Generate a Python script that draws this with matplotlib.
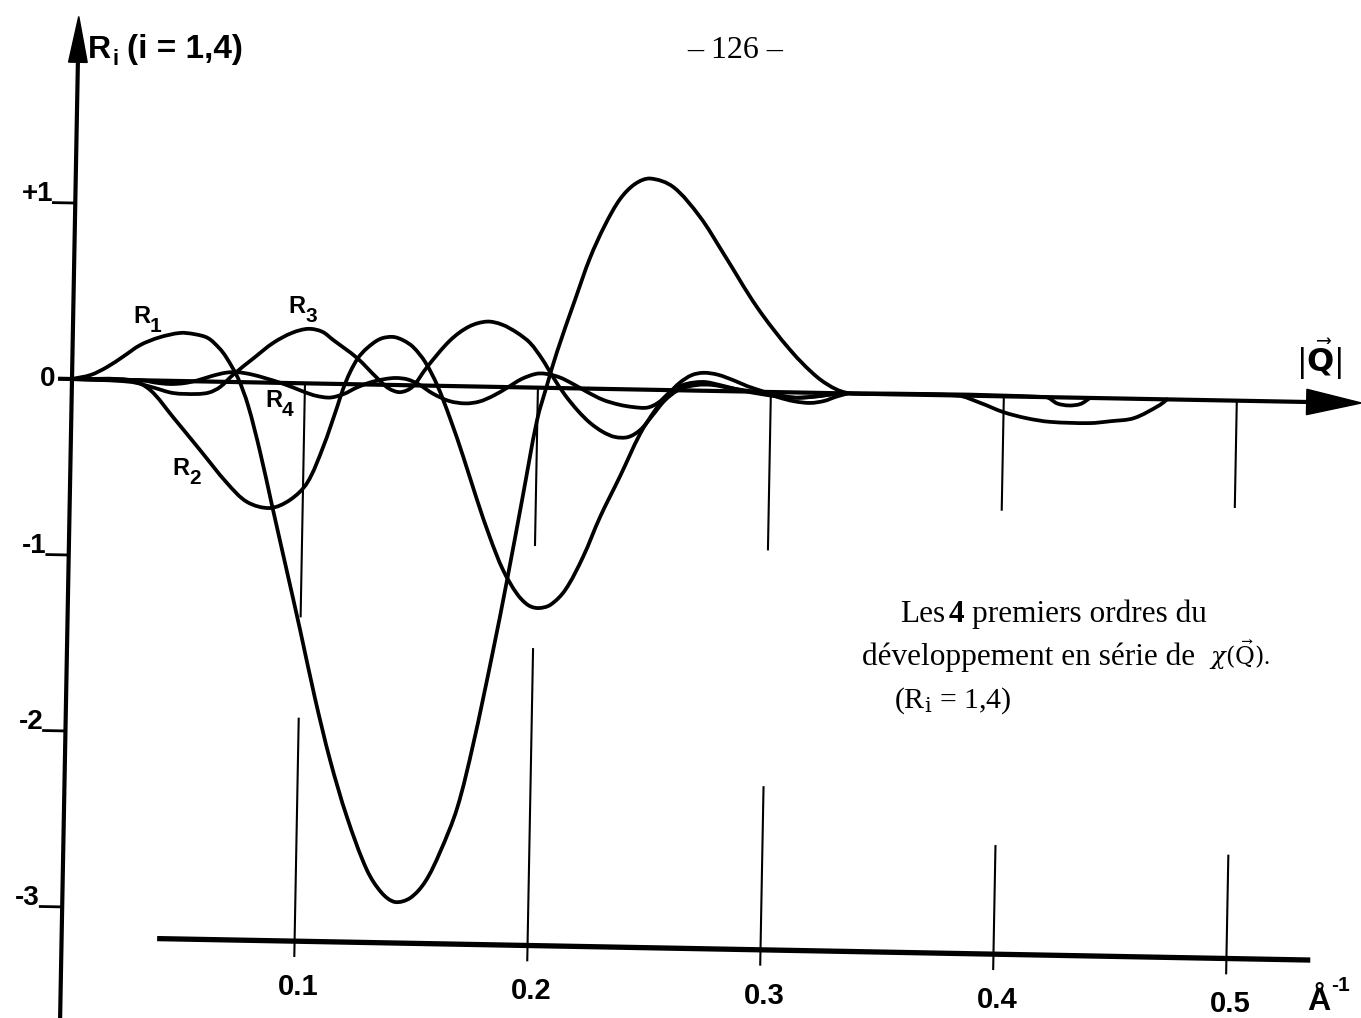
import numpy as np
import matplotlib
matplotlib.use("Agg")
import matplotlib.pyplot as plt
from matplotlib.transforms import Affine2D
from matplotlib.patches import Polygon, PathPatch
from matplotlib.path import Path

# ---------------------------------------------------------------------------
# Radial orders R_i(|Q|) of the expansion of chi(Q), i = 1..4
# ---------------------------------------------------------------------------
q_r1 = [0.000, 0.008, 0.015, 0.022, 0.029, 0.037, 0.046, 0.052, 0.058, 0.063,
        0.066, 0.0712, 0.0757, 0.0813, 0.0868, 0.0933, 0.0999, 0.1068, 0.1138,
        0.1215, 0.1305, 0.1371, 0.1428, 0.1492, 0.1555, 0.1617, 0.1687, 0.1750,
        0.1825, 0.1883, 0.1941, 0.1999, 0.2039, 0.2079, 0.2152, 0.2213, 0.2275,
        0.2338, 0.2401, 0.2465, 0.2564, 0.2682, 0.2784, 0.2934, 0.3080, 0.3197,
        0.3284, 0.3350, 0.380, 0.390, 0.400, 0.410, 0.420, 0.437, 0.446, 0.456,
        0.467, 0.470]
r1 = [0.000, 0.025, 0.072, 0.135, 0.200, 0.245, 0.273, 0.268, 0.247, 0.190,
      0.140, 0.023, -0.129, -0.395, -0.695, -1.045, -1.402, -1.787, -2.138,
      -2.460, -2.759, -2.888, -2.937, -2.913, -2.820, -2.649, -2.397, -2.037,
      -1.524, -1.096, -0.640, -0.184, 0.016, 0.205, 0.502, 0.742, 0.931,
      1.081, 1.168, 1.200, 1.155, 0.987, 0.785, 0.480, 0.240, 0.090,
      0.020, 0.000, 0.000, -0.040, -0.090, -0.122, -0.140, -0.143, -0.130, -0.110,
      -0.033, 0.000]

q_r2 = [0.000, 0.025, 0.0336, 0.0436, 0.0555, 0.0673, 0.0761, 0.0860, 0.0945,
        0.1017, 0.1083, 0.1140, 0.1164, 0.1193, 0.1226, 0.1264, 0.1319, 0.1374,
        0.1418, 0.1461, 0.1514, 0.1567, 0.1625, 0.1684, 0.1748, 0.1807, 0.1865,
        0.1927, 0.1975, 0.2018, 0.2070, 0.2133, 0.2207, 0.2277, 0.2360, 0.2442,
        0.2505, 0.2559, 0.2623, 0.2708, 0.2781, 0.2867, 0.297, 0.308, 0.320,
        0.330, 0.418, 0.423, 0.428, 0.433, 0.437]
r2 = [0.000, 0.000, -0.054, -0.205, -0.390, -0.574, -0.680, -0.712, -0.664,
      -0.566, -0.360, -0.131, -0.028, 0.069, 0.150, 0.207, 0.260, 0.273,
      0.255, 0.218, 0.134, 0.005, -0.182, -0.396, -0.645, -0.859, -1.040,
      -1.174, -1.236, -1.252, -1.233, -1.147, -0.957, -0.728, -0.493, -0.252,
      -0.115, -0.022, 0.031, 0.050, 0.034, 0.008, -0.015, -0.030, -0.020,
      0.000, 0.000, -0.035, -0.045, -0.035, 0.000]

q_r3 = [0.000, 0.025, 0.035, 0.0435, 0.0537, 0.0590, 0.0636, 0.069, 0.078,
        0.086, 0.094, 0.101, 0.107, 0.1117, 0.1221, 0.1309, 0.136, 0.1409,
        0.146, 0.1523, 0.162, 0.170, 0.1776, 0.184, 0.1906, 0.1963, 0.2016,
        0.2064, 0.2117, 0.2174, 0.2227, 0.2283, 0.2335, 0.2391, 0.2442, 0.2492,
        0.2547, 0.2610, 0.2683, 0.2747, 0.2824, 0.2910, 0.302, 0.312, 0.322,
        0.330]
r3 = [0.000, -0.010, -0.040, -0.069, -0.072, -0.062, -0.030, 0.040, 0.140,
      0.226, 0.285, 0.310, 0.295, 0.250, 0.150, 0.038, -0.020, -0.040,
      -0.010, 0.106, 0.260, 0.340, 0.370, 0.355, 0.310, 0.253, 0.163,
      0.062, -0.039, -0.128, -0.195, -0.245, -0.272, -0.271, -0.230, -0.149,
      -0.057, 0.007, 0.032, 0.034, 0.018, 0.003, -0.015, -0.030, -0.015,
      0.000]

q_r4 = [0.000, 0.030, 0.036, 0.042, 0.048, 0.054, 0.060, 0.066, 0.071, 0.077,
        0.083, 0.089, 0.095, 0.100, 0.105, 0.111, 0.117, 0.122, 0.128, 0.134,
        0.139, 0.144, 0.149, 0.155, 0.162, 0.169, 0.175, 0.181, 0.187, 0.193,
        0.199, 0.203, 0.209, 0.215, 0.221, 0.228, 0.235, 0.241, 0.247, 0.2515,
        0.256, 0.261, 0.266, 0.271, 0.277, 0.284, 0.290, 0.296, 0.303, 0.310,
        0.317, 0.323, 0.328, 0.333]
r4 = [0.000, 0.000, -0.012, -0.018, -0.012, 0.006, 0.032, 0.052, 0.056, 0.045,
      0.025, 0.002, -0.025, -0.050, -0.070, -0.078, -0.055, -0.020, 0.012, 0.032,
      0.040, 0.033, 0.005, -0.045, -0.085, -0.097, -0.085, -0.050, -0.002, 0.048,
      0.078, 0.080, 0.062, 0.025, -0.018, -0.062, -0.088, -0.100, -0.102, -0.075,
      -0.020, 0.045, 0.088, 0.102, 0.093, 0.062, 0.030, 0.005, -0.028, -0.050,
      -0.058, -0.045, -0.020, 0.000]

curve_names = ["1", "2", "3", "4"]

q_ticks = [0.1, 0.2, 0.3, 0.4, 0.5]
q_tick_labels = ["0.1", "0.2", "0.3", "0.4", "0.5"]
r_ticks = [1, 0, -1, -2, -3]
r_tick_labels = ["+1", "0", "-1", "-2", "-3"]

# ---------------------------------------------------------------------------
# Page geometry (pixels) and a slight tilt of the whole drawing
# ---------------------------------------------------------------------------
W, H, DPI = 1361, 1018, 100
X0, Y0 = 72, 379          # origin of the graph on the page (from top-left)
SX, SY = 2330.0, 176.0    # pixels per unit of |Q| and of R
TILT = -1.066             # degrees

SANS = ["Liberation Sans", "DejaVu Sans"]
SERIF = ["Liberation Serif", "DejaVu Serif"]

fig = plt.figure(figsize=(W / DPI, H / DPI), dpi=DPI)
fig.patch.set_facecolor("white")
ax = fig.add_axes([0, 0, 1, 1])
ax.set_xlim(-X0 / SX, (W - X0) / SX)
ax.set_ylim((Y0 - H) / SY, Y0 / SY)
ax.set_autoscale_on(False)
ax.axis("off")

tilt = ax.transData + Affine2D().rotate_deg_around(X0, H - Y0, TILT)


def page(x, y):
    """Figure-fraction coordinates of a page pixel (origin top-left)."""
    return x / W, 1 - y / H


def line(q, r, lw):
    ax.plot(q, r, color="black", lw=lw, transform=tilt,
            solid_capstyle="butt", solid_joinstyle="round")


def smooth_curve(q, r, lw):
    """Draw a smooth cubic curve passing through every (q, r) point."""
    p = np.column_stack([q, r]).astype(float)
    s = np.array([SX, SY])
    pp = p * s
    d = np.hypot(*np.diff(pp, axis=0).T)
    m = np.zeros_like(pp)
    m[0] = (pp[1] - pp[0]) / d[0]
    m[-1] = (pp[-1] - pp[-2]) / d[-1]
    for i in range(1, len(p) - 1):
        m[i] = (pp[i + 1] - pp[i - 1]) / (d[i - 1] + d[i])
    verts, codes = [p[0]], [Path.MOVETO]
    for i in range(len(p) - 1):
        c1 = (pp[i] + m[i] * d[i] / 3) / s
        c2 = (pp[i + 1] - m[i + 1] * d[i] / 3) / s
        verts += [c1, c2, p[i + 1]]
        codes += [Path.CURVE4] * 3
    ax.add_patch(PathPatch(Path(verts, codes), fill=False, ec="black", lw=lw,
                           transform=tilt, capstyle="round", joinstyle="round"))


# axes: vertical R axis and horizontal |Q| axis with arrow heads
line([0, 0], [-3.70, 1.82], 3.0)
ax.add_patch(Polygon([(-0.0040, 1.80), (0.0, 2.06), (0.0040, 1.80)],
                     closed=True, color="black", transform=tilt))
line([-0.006, 0.532], [0, 0], 3.0)
ax.add_patch(Polygon([(0.530, 0.072), (0.5535, 0.0), (0.530, -0.072)],
                     closed=True, color="black", transform=tilt))

# lower |Q| scale line
line([0.041, 0.536], [-3.17, -3.17], 3.8)

# thin drop lines under every |Q| graduation
drop_upper_end = [-1.33, -0.90, -0.90, -0.65, -0.61]
drop_lower_start = [-1.90, -1.48, -2.24, -2.55, -2.58]
for q, a, b in zip(q_ticks, drop_upper_end, drop_lower_start):
    line([q, q], [0, a], 1.5)
    line([q, q], [b, -3.26], 1.5)

# R ticks on the vertical axis
for r in r_ticks:
    if r != 0:
        line([-0.010, 0], [r, r], 2.0)

# the four curves
for q, r in [(q_r1, r1), (q_r2, r2), (q_r3, r3), (q_r4, r4)]:
    smooth_curve(q, r, 2.7)

# ---------------------------------------------------------------------------
# Texts
# ---------------------------------------------------------------------------
for q, lab in zip(q_ticks, q_tick_labels):
    ax.text(q + 0.002, -3.43, lab, transform=tilt, ha="center", va="center",
            family=SANS, weight="bold", fontsize=21)
fig.text(*page(1307, 1010), "Å", ha="left", va="baseline",
         family=SANS, weight="bold", fontsize=23)
fig.text(*page(1331, 991), "-1", ha="left", va="baseline",
         family=SANS, weight="bold", fontsize=15)

for r, lab in zip(r_ticks, r_tick_labels):
    if r == 0:
        ax.text(-0.0072, r, lab, transform=tilt, ha="right", va="center",
                family=SANS, weight="bold", fontsize=20)
    else:
        ax.text(-0.0095, r + 0.01, lab, transform=tilt, ha="right", va="baseline",
                family=SANS, weight="bold", fontsize=20)

# curve labels
curve_label_pos = [(133, 323), (172, 475), (288, 313), (265, 407)]
for (x, y), n in zip(curve_label_pos, curve_names):
    fig.text(*page(x, y), "R", ha="left", va="baseline",
             family=SANS, weight="bold", fontsize=17)
    fig.text(*page(x + 17, y + 9), n, ha="left", va="baseline",
             family=SANS, weight="bold", fontsize=15)

# axis titles
fig.text(*page(88, 58), "R", ha="left", va="baseline",
         family=SANS, weight="bold", fontsize=23)
fig.text(*page(112, 65), "i", ha="left", va="baseline",
         family=SANS, weight="bold", fontsize=16)
fig.text(*page(127, 58), "(i = 1,4)", ha="left", va="baseline",
         family=SANS, weight="bold", fontsize=24)
fig.text(*page(1296, 372), r"$|\vec{\mathbf{Q}}|$", ha="left", va="baseline",
         fontsize=23, math_fontfamily="dejavusans")

# page number
fig.text(*page(735, 58), "– 126 –", ha="center", va="baseline",
         family=SERIF, fontsize=23)

# caption
fig.text(*page(900, 622), "Les", ha="left", va="baseline", family=SERIF,
         fontsize=22.5)
fig.text(*page(949, 622), "4", ha="left", va="baseline", family=SERIF,
         weight="bold", fontsize=22.5)
fig.text(*page(972, 622), "premiers ordres du", ha="left", va="baseline",
         family=SERIF, fontsize=22.5)
fig.text(*page(862, 665), "développement en série de", ha="left",
         va="baseline", family=SERIF, fontsize=22.5)
fig.text(*page(1209, 665), r"$\chi(\vec{\mathrm{Q}})$.", ha="left",
         va="baseline", family=SERIF, fontsize=17.5,
         math_fontfamily="dejavuserif")
fig.text(*page(894, 708), r"(R$_\mathrm{i}$ = 1,4)", ha="left", va="baseline",
         family=SERIF, fontsize=21.5, math_fontfamily="dejavuserif")

fig.savefig("out.png", dpi=DPI, facecolor="white")
